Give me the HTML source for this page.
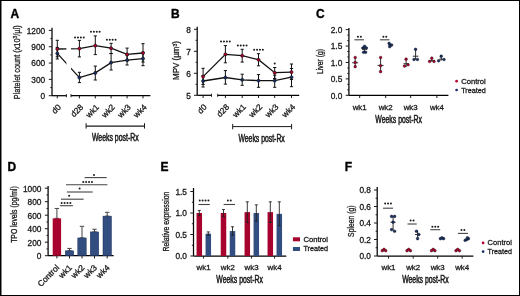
<!DOCTYPE html>
<html><head><meta charset="utf-8"><style>
html,body{margin:0;padding:0;background:#fff;}
body{width:520px;height:296px;overflow:hidden;}
svg{display:block;will-change:transform;font-family:"Liberation Sans",sans-serif;}
text{stroke:#1a1a1a;stroke-width:0.3px;}
</style></head><body>
<svg width="520" height="296" viewBox="0 0 520 296">
<rect x="0" y="0" width="520" height="296" fill="#fff"/>
<rect x="0.5" y="0.5" width="519" height="295" fill="none" stroke="#000" stroke-width="1"/>
<rect x="1" y="1" width="0.8" height="294" fill="#666"/>
<text x="10.60" y="17.90" font-size="12" text-anchor="start" font-weight="bold" fill="#000" style="stroke:#000;stroke-width:0.35px">A</text>
<line x1="52.00" y1="27.80" x2="52.00" y2="95.70" stroke="#000" stroke-width="1.25" />
<line x1="48.80" y1="95.70" x2="52.00" y2="95.70" stroke="#1a1a1a" stroke-width="1" />
<line x1="48.80" y1="79.37" x2="52.00" y2="79.37" stroke="#1a1a1a" stroke-width="1" />
<line x1="48.80" y1="63.05" x2="52.00" y2="63.05" stroke="#1a1a1a" stroke-width="1" />
<line x1="48.80" y1="46.72" x2="52.00" y2="46.72" stroke="#1a1a1a" stroke-width="1" />
<line x1="48.80" y1="30.40" x2="52.00" y2="30.40" stroke="#1a1a1a" stroke-width="1" />
<line x1="50.40" y1="87.54" x2="52.00" y2="87.54" stroke="#1a1a1a" stroke-width="1" />
<line x1="50.40" y1="71.21" x2="52.00" y2="71.21" stroke="#1a1a1a" stroke-width="1" />
<line x1="50.40" y1="54.88" x2="52.00" y2="54.88" stroke="#1a1a1a" stroke-width="1" />
<line x1="50.40" y1="38.56" x2="52.00" y2="38.56" stroke="#1a1a1a" stroke-width="1" />
<text x="45.20" y="99.10" font-size="8.3" text-anchor="end" font-weight="normal" fill="#1a1a1a" >0</text>
<text x="45.20" y="82.77" font-size="8.3" text-anchor="end" font-weight="normal" fill="#1a1a1a" >300</text>
<text x="45.20" y="66.45" font-size="8.3" text-anchor="end" font-weight="normal" fill="#1a1a1a" >600</text>
<text x="45.20" y="50.12" font-size="8.3" text-anchor="end" font-weight="normal" fill="#1a1a1a" >900</text>
<text x="45.20" y="33.80" font-size="8.3" text-anchor="end" font-weight="normal" fill="#1a1a1a" >1200</text>
<text x="20.00" y="62.30" font-size="9.2" text-anchor="middle" fill="#1a1a1a" style="stroke:#1a1a1a;stroke-width:0.3px" transform="rotate(-90 20.00 62.30)" textLength="73.80" lengthAdjust="spacingAndGlyphs">Platelet count (x10<tspan dy="-3" font-size="6.2">3</tspan><tspan dy="3">/µl)</tspan></text>
<line x1="52.00" y1="95.70" x2="66.40" y2="95.70" stroke="#000" stroke-width="1.25" />
<line x1="71.00" y1="95.70" x2="150.40" y2="95.70" stroke="#000" stroke-width="1.25" />
<line x1="66.40" y1="94.20" x2="66.40" y2="97.20" stroke="#1a1a1a" stroke-width="1" />
<line x1="71.00" y1="94.20" x2="71.00" y2="97.20" stroke="#1a1a1a" stroke-width="1" />
<line x1="57.30" y1="95.70" x2="57.30" y2="98.40" stroke="#1a1a1a" stroke-width="1" />
<text x="61.60" y="107.80" font-size="8.3" text-anchor="end" font-weight="normal" fill="#1a1a1a" transform="rotate(-45 61.60 107.80)" >d0</text>
<line x1="79.40" y1="95.70" x2="79.40" y2="98.40" stroke="#1a1a1a" stroke-width="1" />
<text x="83.70" y="107.80" font-size="8.3" text-anchor="end" font-weight="normal" fill="#1a1a1a" transform="rotate(-45 83.70 107.80)" >d28</text>
<line x1="95.30" y1="95.70" x2="95.30" y2="98.40" stroke="#1a1a1a" stroke-width="1" />
<text x="99.60" y="107.80" font-size="8.3" text-anchor="end" font-weight="normal" fill="#1a1a1a" transform="rotate(-45 99.60 107.80)" >wk1</text>
<line x1="111.10" y1="95.70" x2="111.10" y2="98.40" stroke="#1a1a1a" stroke-width="1" />
<text x="115.40" y="107.80" font-size="8.3" text-anchor="end" font-weight="normal" fill="#1a1a1a" transform="rotate(-45 115.40 107.80)" >wk2</text>
<line x1="127.10" y1="95.70" x2="127.10" y2="98.40" stroke="#1a1a1a" stroke-width="1" />
<text x="131.40" y="107.80" font-size="8.3" text-anchor="end" font-weight="normal" fill="#1a1a1a" transform="rotate(-45 131.40 107.80)" >wk3</text>
<line x1="143.00" y1="95.70" x2="143.00" y2="98.40" stroke="#1a1a1a" stroke-width="1" />
<text x="147.30" y="107.80" font-size="8.3" text-anchor="end" font-weight="normal" fill="#1a1a1a" transform="rotate(-45 147.30 107.80)" >wk4</text>
<line x1="86.10" y1="126.10" x2="144.50" y2="126.10" stroke="#1a1a1a" stroke-width="1.1" />
<line x1="86.10" y1="123.20" x2="86.10" y2="128.60" stroke="#1a1a1a" stroke-width="1" />
<line x1="144.50" y1="123.20" x2="144.50" y2="128.60" stroke="#1a1a1a" stroke-width="1" />
<text x="115.30" y="141.00" font-size="10" text-anchor="middle" font-weight="normal" fill="#1a1a1a" textLength="46.80" lengthAdjust="spacingAndGlyphs" style="stroke:#1a1a1a;stroke-width:0.5px">Weeks post-Rx</text>
<line x1="57.30" y1="40.30" x2="57.30" y2="56.80" stroke="#111" stroke-width="1.0" />
<line x1="55.70" y1="40.30" x2="58.90" y2="40.30" stroke="#111" stroke-width="1.0" />
<line x1="55.70" y1="56.80" x2="58.90" y2="56.80" stroke="#111" stroke-width="1.0" />
<line x1="79.40" y1="40.40" x2="79.40" y2="56.90" stroke="#111" stroke-width="1.0" />
<line x1="77.80" y1="40.40" x2="81.00" y2="40.40" stroke="#111" stroke-width="1.0" />
<line x1="77.80" y1="56.90" x2="81.00" y2="56.90" stroke="#111" stroke-width="1.0" />
<line x1="95.30" y1="35.90" x2="95.30" y2="54.60" stroke="#111" stroke-width="1.0" />
<line x1="93.70" y1="35.90" x2="96.90" y2="35.90" stroke="#111" stroke-width="1.0" />
<line x1="93.70" y1="54.60" x2="96.90" y2="54.60" stroke="#111" stroke-width="1.0" />
<line x1="111.10" y1="43.30" x2="111.10" y2="53.40" stroke="#111" stroke-width="1.0" />
<line x1="109.50" y1="43.30" x2="112.70" y2="43.30" stroke="#111" stroke-width="1.0" />
<line x1="109.50" y1="53.40" x2="112.70" y2="53.40" stroke="#111" stroke-width="1.0" />
<line x1="127.10" y1="48.10" x2="127.10" y2="60.60" stroke="#111" stroke-width="1.0" />
<line x1="125.50" y1="48.10" x2="128.70" y2="48.10" stroke="#111" stroke-width="1.0" />
<line x1="125.50" y1="60.60" x2="128.70" y2="60.60" stroke="#111" stroke-width="1.0" />
<line x1="143.00" y1="43.70" x2="143.00" y2="62.00" stroke="#111" stroke-width="1.0" />
<line x1="141.40" y1="43.70" x2="144.60" y2="43.70" stroke="#111" stroke-width="1.0" />
<line x1="141.40" y1="62.00" x2="144.60" y2="62.00" stroke="#111" stroke-width="1.0" />
<line x1="57.30" y1="47.40" x2="57.30" y2="59.00" stroke="#111" stroke-width="1.0" />
<line x1="55.70" y1="47.40" x2="58.90" y2="47.40" stroke="#111" stroke-width="1.0" />
<line x1="55.70" y1="59.00" x2="58.90" y2="59.00" stroke="#111" stroke-width="1.0" />
<line x1="79.40" y1="72.30" x2="79.40" y2="82.60" stroke="#111" stroke-width="1.0" />
<line x1="77.80" y1="72.30" x2="81.00" y2="72.30" stroke="#111" stroke-width="1.0" />
<line x1="77.80" y1="82.60" x2="81.00" y2="82.60" stroke="#111" stroke-width="1.0" />
<line x1="95.30" y1="66.10" x2="95.30" y2="80.00" stroke="#111" stroke-width="1.0" />
<line x1="93.70" y1="66.10" x2="96.90" y2="66.10" stroke="#111" stroke-width="1.0" />
<line x1="93.70" y1="80.00" x2="96.90" y2="80.00" stroke="#111" stroke-width="1.0" />
<line x1="111.10" y1="53.60" x2="111.10" y2="70.00" stroke="#111" stroke-width="1.0" />
<line x1="109.50" y1="53.60" x2="112.70" y2="53.60" stroke="#111" stroke-width="1.0" />
<line x1="109.50" y1="70.00" x2="112.70" y2="70.00" stroke="#111" stroke-width="1.0" />
<line x1="127.10" y1="55.20" x2="127.10" y2="65.00" stroke="#111" stroke-width="1.0" />
<line x1="125.50" y1="55.20" x2="128.70" y2="55.20" stroke="#111" stroke-width="1.0" />
<line x1="125.50" y1="65.00" x2="128.70" y2="65.00" stroke="#111" stroke-width="1.0" />
<line x1="143.00" y1="52.20" x2="143.00" y2="65.70" stroke="#111" stroke-width="1.0" />
<line x1="141.40" y1="52.20" x2="144.60" y2="52.20" stroke="#111" stroke-width="1.0" />
<line x1="141.40" y1="65.70" x2="144.60" y2="65.70" stroke="#111" stroke-width="1.0" />
<clipPath id="cA"><rect x="0" y="0" width="66.4" height="148"/><rect x="71.0" y="0" width="100" height="148"/></clipPath>
<polyline points="57.30,49.00 79.40,48.60 95.30,45.60 111.10,48.20 127.10,54.40 143.00,53.00" fill="none" stroke="#111" stroke-width="1.3" clip-path="url(#cA)"/>
<polyline points="57.30,53.40 79.40,77.60 95.30,72.90 111.10,62.60 127.10,60.20 143.00,58.60" fill="none" stroke="#111" stroke-width="1.3" clip-path="url(#cA)"/>
<circle cx="57.30" cy="49.00" r="1.55" fill="#b8002e" stroke="#111" stroke-width="0.6"/>
<circle cx="79.40" cy="48.60" r="1.55" fill="#b8002e" stroke="#111" stroke-width="0.6"/>
<circle cx="95.30" cy="45.60" r="1.55" fill="#b8002e" stroke="#111" stroke-width="0.6"/>
<circle cx="111.10" cy="48.20" r="1.55" fill="#b8002e" stroke="#111" stroke-width="0.6"/>
<circle cx="127.10" cy="54.40" r="1.55" fill="#b8002e" stroke="#111" stroke-width="0.6"/>
<circle cx="143.00" cy="53.00" r="1.55" fill="#b8002e" stroke="#111" stroke-width="0.6"/>
<circle cx="57.30" cy="53.40" r="1.55" fill="#16306a" stroke="#111" stroke-width="0.6"/>
<circle cx="79.40" cy="77.60" r="1.55" fill="#16306a" stroke="#111" stroke-width="0.6"/>
<circle cx="95.30" cy="72.90" r="1.55" fill="#16306a" stroke="#111" stroke-width="0.6"/>
<circle cx="111.10" cy="62.60" r="1.55" fill="#16306a" stroke="#111" stroke-width="0.6"/>
<circle cx="127.10" cy="60.20" r="1.55" fill="#16306a" stroke="#111" stroke-width="0.6"/>
<circle cx="143.00" cy="58.60" r="1.55" fill="#16306a" stroke="#111" stroke-width="0.6"/>
<circle cx="75.05" cy="37.40" r="1.0" fill="#1a1a1a"/>
<circle cx="77.95" cy="37.40" r="1.0" fill="#1a1a1a"/>
<circle cx="80.85" cy="37.40" r="1.0" fill="#1a1a1a"/>
<circle cx="83.75" cy="37.40" r="1.0" fill="#1a1a1a"/>
<circle cx="90.95" cy="31.70" r="1.0" fill="#1a1a1a"/>
<circle cx="93.85" cy="31.70" r="1.0" fill="#1a1a1a"/>
<circle cx="96.75" cy="31.70" r="1.0" fill="#1a1a1a"/>
<circle cx="99.65" cy="31.70" r="1.0" fill="#1a1a1a"/>
<circle cx="106.85" cy="39.80" r="1.0" fill="#1a1a1a"/>
<circle cx="109.75" cy="39.80" r="1.0" fill="#1a1a1a"/>
<circle cx="112.65" cy="39.80" r="1.0" fill="#1a1a1a"/>
<circle cx="115.55" cy="39.80" r="1.0" fill="#1a1a1a"/>
<text x="170.90" y="18.00" font-size="12" text-anchor="start" font-weight="bold" fill="#000" style="stroke:#000;stroke-width:0.35px">B</text>
<line x1="197.20" y1="26.80" x2="197.20" y2="95.30" stroke="#000" stroke-width="1.25" />
<line x1="194.00" y1="95.30" x2="197.20" y2="95.30" stroke="#1a1a1a" stroke-width="1" />
<line x1="194.00" y1="73.30" x2="197.20" y2="73.30" stroke="#1a1a1a" stroke-width="1" />
<line x1="194.00" y1="51.30" x2="197.20" y2="51.30" stroke="#1a1a1a" stroke-width="1" />
<line x1="194.00" y1="29.30" x2="197.20" y2="29.30" stroke="#1a1a1a" stroke-width="1" />
<line x1="195.60" y1="84.30" x2="197.20" y2="84.30" stroke="#1a1a1a" stroke-width="1" />
<line x1="195.60" y1="62.30" x2="197.20" y2="62.30" stroke="#1a1a1a" stroke-width="1" />
<line x1="195.60" y1="40.30" x2="197.20" y2="40.30" stroke="#1a1a1a" stroke-width="1" />
<text x="190.80" y="98.70" font-size="8.3" text-anchor="end" font-weight="normal" fill="#1a1a1a" >5</text>
<text x="190.80" y="76.70" font-size="8.3" text-anchor="end" font-weight="normal" fill="#1a1a1a" >6</text>
<text x="190.80" y="54.70" font-size="8.3" text-anchor="end" font-weight="normal" fill="#1a1a1a" >7</text>
<text x="190.80" y="32.70" font-size="8.3" text-anchor="end" font-weight="normal" fill="#1a1a1a" >8</text>
<text x="179.30" y="60.50" font-size="8.6" text-anchor="middle" fill="#1a1a1a" style="stroke:#1a1a1a;stroke-width:0.3px" transform="rotate(-90 179.30 60.50)" textLength="38.90" lengthAdjust="spacingAndGlyphs">MPV (µm<tspan dy="-2.6" font-size="5.5">3</tspan><tspan dy="2.6">)</tspan></text>
<line x1="197.20" y1="95.30" x2="211.50" y2="95.30" stroke="#000" stroke-width="1.25" />
<line x1="217.70" y1="95.30" x2="299.20" y2="95.30" stroke="#000" stroke-width="1.25" />
<line x1="211.50" y1="93.80" x2="211.50" y2="96.80" stroke="#1a1a1a" stroke-width="1" />
<line x1="217.70" y1="93.80" x2="217.70" y2="96.80" stroke="#1a1a1a" stroke-width="1" />
<line x1="203.10" y1="95.30" x2="203.10" y2="98.00" stroke="#1a1a1a" stroke-width="1" />
<text x="207.40" y="107.60" font-size="8.3" text-anchor="end" font-weight="normal" fill="#1a1a1a" transform="rotate(-45 207.40 107.60)" >d0</text>
<line x1="225.40" y1="95.30" x2="225.40" y2="98.00" stroke="#1a1a1a" stroke-width="1" />
<text x="229.70" y="107.60" font-size="8.3" text-anchor="end" font-weight="normal" fill="#1a1a1a" transform="rotate(-45 229.70 107.60)" >d28</text>
<line x1="242.20" y1="95.30" x2="242.20" y2="98.00" stroke="#1a1a1a" stroke-width="1" />
<text x="246.50" y="107.60" font-size="8.3" text-anchor="end" font-weight="normal" fill="#1a1a1a" transform="rotate(-45 246.50 107.60)" >wk1</text>
<line x1="258.50" y1="95.30" x2="258.50" y2="98.00" stroke="#1a1a1a" stroke-width="1" />
<text x="262.80" y="107.60" font-size="8.3" text-anchor="end" font-weight="normal" fill="#1a1a1a" transform="rotate(-45 262.80 107.60)" >wk2</text>
<line x1="274.70" y1="95.30" x2="274.70" y2="98.00" stroke="#1a1a1a" stroke-width="1" />
<text x="279.00" y="107.60" font-size="8.3" text-anchor="end" font-weight="normal" fill="#1a1a1a" transform="rotate(-45 279.00 107.60)" >wk3</text>
<line x1="291.50" y1="95.30" x2="291.50" y2="98.00" stroke="#1a1a1a" stroke-width="1" />
<text x="295.80" y="107.60" font-size="8.3" text-anchor="end" font-weight="normal" fill="#1a1a1a" transform="rotate(-45 295.80 107.60)" >wk4</text>
<line x1="232.70" y1="126.60" x2="291.60" y2="126.60" stroke="#1a1a1a" stroke-width="1" />
<line x1="232.70" y1="123.90" x2="232.70" y2="129.30" stroke="#1a1a1a" stroke-width="1" />
<line x1="291.60" y1="123.90" x2="291.60" y2="129.30" stroke="#1a1a1a" stroke-width="1" />
<text x="261.60" y="142.00" font-size="10" text-anchor="middle" font-weight="normal" fill="#1a1a1a" textLength="46.40" lengthAdjust="spacingAndGlyphs" style="stroke:#1a1a1a;stroke-width:0.5px">Weeks post-Rx</text>
<line x1="203.10" y1="68.30" x2="203.10" y2="84.50" stroke="#111" stroke-width="1.0" />
<line x1="201.50" y1="68.30" x2="204.70" y2="68.30" stroke="#111" stroke-width="1.0" />
<line x1="201.50" y1="84.50" x2="204.70" y2="84.50" stroke="#111" stroke-width="1.0" />
<line x1="225.40" y1="45.60" x2="225.40" y2="62.80" stroke="#111" stroke-width="1.0" />
<line x1="223.80" y1="45.60" x2="227.00" y2="45.60" stroke="#111" stroke-width="1.0" />
<line x1="223.80" y1="62.80" x2="227.00" y2="62.80" stroke="#111" stroke-width="1.0" />
<line x1="242.20" y1="49.30" x2="242.20" y2="62.10" stroke="#111" stroke-width="1.0" />
<line x1="240.60" y1="49.30" x2="243.80" y2="49.30" stroke="#111" stroke-width="1.0" />
<line x1="240.60" y1="62.10" x2="243.80" y2="62.10" stroke="#111" stroke-width="1.0" />
<line x1="258.50" y1="53.70" x2="258.50" y2="65.80" stroke="#111" stroke-width="1.0" />
<line x1="256.90" y1="53.70" x2="260.10" y2="53.70" stroke="#111" stroke-width="1.0" />
<line x1="256.90" y1="65.80" x2="260.10" y2="65.80" stroke="#111" stroke-width="1.0" />
<line x1="274.70" y1="67.50" x2="274.70" y2="78.50" stroke="#111" stroke-width="1.0" />
<line x1="273.10" y1="67.50" x2="276.30" y2="67.50" stroke="#111" stroke-width="1.0" />
<line x1="273.10" y1="78.50" x2="276.30" y2="78.50" stroke="#111" stroke-width="1.0" />
<line x1="291.50" y1="64.00" x2="291.50" y2="79.50" stroke="#111" stroke-width="1.0" />
<line x1="289.90" y1="64.00" x2="293.10" y2="64.00" stroke="#111" stroke-width="1.0" />
<line x1="289.90" y1="79.50" x2="293.10" y2="79.50" stroke="#111" stroke-width="1.0" />
<line x1="203.10" y1="75.50" x2="203.10" y2="87.00" stroke="#111" stroke-width="1.0" />
<line x1="201.50" y1="75.50" x2="204.70" y2="75.50" stroke="#111" stroke-width="1.0" />
<line x1="201.50" y1="87.00" x2="204.70" y2="87.00" stroke="#111" stroke-width="1.0" />
<line x1="225.40" y1="70.60" x2="225.40" y2="84.10" stroke="#111" stroke-width="1.0" />
<line x1="223.80" y1="70.60" x2="227.00" y2="70.60" stroke="#111" stroke-width="1.0" />
<line x1="223.80" y1="84.10" x2="227.00" y2="84.10" stroke="#111" stroke-width="1.0" />
<line x1="242.20" y1="74.20" x2="242.20" y2="85.30" stroke="#111" stroke-width="1.0" />
<line x1="240.60" y1="74.20" x2="243.80" y2="74.20" stroke="#111" stroke-width="1.0" />
<line x1="240.60" y1="85.30" x2="243.80" y2="85.30" stroke="#111" stroke-width="1.0" />
<line x1="258.50" y1="74.60" x2="258.50" y2="87.30" stroke="#111" stroke-width="1.0" />
<line x1="256.90" y1="74.60" x2="260.10" y2="74.60" stroke="#111" stroke-width="1.0" />
<line x1="256.90" y1="87.30" x2="260.10" y2="87.30" stroke="#111" stroke-width="1.0" />
<line x1="274.70" y1="75.20" x2="274.70" y2="87.30" stroke="#111" stroke-width="1.0" />
<line x1="273.10" y1="75.20" x2="276.30" y2="75.20" stroke="#111" stroke-width="1.0" />
<line x1="273.10" y1="87.30" x2="276.30" y2="87.30" stroke="#111" stroke-width="1.0" />
<line x1="291.50" y1="68.50" x2="291.50" y2="86.70" stroke="#111" stroke-width="1.0" />
<line x1="289.90" y1="68.50" x2="293.10" y2="68.50" stroke="#111" stroke-width="1.0" />
<line x1="289.90" y1="86.70" x2="293.10" y2="86.70" stroke="#111" stroke-width="1.0" />
<polyline points="203.10,76.60 225.40,54.30 242.20,55.70 258.50,59.70 274.70,72.70 291.50,72.10" fill="none" stroke="#111" stroke-width="1.3" />
<polyline points="203.10,81.00 225.40,77.50 242.20,79.80 258.50,80.60 274.70,80.60 291.50,77.20" fill="none" stroke="#111" stroke-width="1.3" />
<circle cx="203.10" cy="76.60" r="1.55" fill="#b8002e" stroke="#111" stroke-width="0.6"/>
<circle cx="225.40" cy="54.30" r="1.55" fill="#b8002e" stroke="#111" stroke-width="0.6"/>
<circle cx="242.20" cy="55.70" r="1.55" fill="#b8002e" stroke="#111" stroke-width="0.6"/>
<circle cx="258.50" cy="59.70" r="1.55" fill="#b8002e" stroke="#111" stroke-width="0.6"/>
<circle cx="274.70" cy="72.70" r="1.55" fill="#b8002e" stroke="#111" stroke-width="0.6"/>
<circle cx="291.50" cy="72.10" r="1.55" fill="#b8002e" stroke="#111" stroke-width="0.6"/>
<circle cx="203.10" cy="81.00" r="1.55" fill="#16306a" stroke="#111" stroke-width="0.6"/>
<circle cx="225.40" cy="77.50" r="1.55" fill="#16306a" stroke="#111" stroke-width="0.6"/>
<circle cx="242.20" cy="79.80" r="1.55" fill="#16306a" stroke="#111" stroke-width="0.6"/>
<circle cx="258.50" cy="80.60" r="1.55" fill="#16306a" stroke="#111" stroke-width="0.6"/>
<circle cx="274.70" cy="80.60" r="1.55" fill="#16306a" stroke="#111" stroke-width="0.6"/>
<circle cx="291.50" cy="77.20" r="1.55" fill="#16306a" stroke="#111" stroke-width="0.6"/>
<circle cx="221.05" cy="41.50" r="1.0" fill="#1a1a1a"/>
<circle cx="223.95" cy="41.50" r="1.0" fill="#1a1a1a"/>
<circle cx="226.85" cy="41.50" r="1.0" fill="#1a1a1a"/>
<circle cx="229.75" cy="41.50" r="1.0" fill="#1a1a1a"/>
<circle cx="237.85" cy="45.60" r="1.0" fill="#1a1a1a"/>
<circle cx="240.75" cy="45.60" r="1.0" fill="#1a1a1a"/>
<circle cx="243.65" cy="45.60" r="1.0" fill="#1a1a1a"/>
<circle cx="246.55" cy="45.60" r="1.0" fill="#1a1a1a"/>
<circle cx="254.15" cy="49.80" r="1.0" fill="#1a1a1a"/>
<circle cx="257.05" cy="49.80" r="1.0" fill="#1a1a1a"/>
<circle cx="259.95" cy="49.80" r="1.0" fill="#1a1a1a"/>
<circle cx="262.85" cy="49.80" r="1.0" fill="#1a1a1a"/>
<circle cx="274.70" cy="63.40" r="1.0" fill="#1a1a1a"/>
<text x="315.90" y="18.20" font-size="12" text-anchor="start" font-weight="bold" fill="#000" style="stroke:#000;stroke-width:0.35px">C</text>
<line x1="348.90" y1="28.00" x2="348.90" y2="95.30" stroke="#000" stroke-width="1.25" />
<line x1="345.70" y1="95.30" x2="348.90" y2="95.30" stroke="#1a1a1a" stroke-width="1" />
<line x1="345.70" y1="78.88" x2="348.90" y2="78.88" stroke="#1a1a1a" stroke-width="1" />
<line x1="345.70" y1="62.45" x2="348.90" y2="62.45" stroke="#1a1a1a" stroke-width="1" />
<line x1="345.70" y1="46.02" x2="348.90" y2="46.02" stroke="#1a1a1a" stroke-width="1" />
<line x1="345.70" y1="29.60" x2="348.90" y2="29.60" stroke="#1a1a1a" stroke-width="1" />
<line x1="347.30" y1="89.82" x2="348.90" y2="89.82" stroke="#1a1a1a" stroke-width="1" />
<line x1="347.30" y1="84.35" x2="348.90" y2="84.35" stroke="#1a1a1a" stroke-width="1" />
<line x1="347.30" y1="73.40" x2="348.90" y2="73.40" stroke="#1a1a1a" stroke-width="1" />
<line x1="347.30" y1="67.93" x2="348.90" y2="67.93" stroke="#1a1a1a" stroke-width="1" />
<line x1="347.30" y1="56.97" x2="348.90" y2="56.97" stroke="#1a1a1a" stroke-width="1" />
<line x1="347.30" y1="51.50" x2="348.90" y2="51.50" stroke="#1a1a1a" stroke-width="1" />
<line x1="347.30" y1="40.55" x2="348.90" y2="40.55" stroke="#1a1a1a" stroke-width="1" />
<line x1="347.30" y1="35.08" x2="348.90" y2="35.08" stroke="#1a1a1a" stroke-width="1" />
<text x="342.30" y="98.70" font-size="8.3" text-anchor="end" font-weight="normal" fill="#1a1a1a" >0.0</text>
<text x="342.30" y="82.28" font-size="8.3" text-anchor="end" font-weight="normal" fill="#1a1a1a" >0.5</text>
<text x="342.30" y="65.85" font-size="8.3" text-anchor="end" font-weight="normal" fill="#1a1a1a" >1.0</text>
<text x="342.30" y="49.42" font-size="8.3" text-anchor="end" font-weight="normal" fill="#1a1a1a" >1.5</text>
<text x="342.30" y="33.00" font-size="8.3" text-anchor="end" font-weight="normal" fill="#1a1a1a" >2.0</text>
<text x="322.60" y="61.50" font-size="8.6" text-anchor="middle" fill="#1a1a1a" style="stroke:#1a1a1a;stroke-width:0.3px" transform="rotate(-90 322.60 61.50)" textLength="25.00" lengthAdjust="spacingAndGlyphs">Liver (g)</text>
<line x1="348.90" y1="95.30" x2="448.40" y2="95.30" stroke="#000" stroke-width="1.25" />
<line x1="359.70" y1="95.30" x2="359.70" y2="98.00" stroke="#1a1a1a" stroke-width="1" />
<text x="359.70" y="110.10" font-size="7.9" text-anchor="middle" font-weight="normal" fill="#1a1a1a" >wk1</text>
<line x1="385.70" y1="95.30" x2="385.70" y2="98.00" stroke="#1a1a1a" stroke-width="1" />
<text x="385.70" y="110.10" font-size="7.9" text-anchor="middle" font-weight="normal" fill="#1a1a1a" >wk2</text>
<line x1="410.70" y1="95.30" x2="410.70" y2="98.00" stroke="#1a1a1a" stroke-width="1" />
<text x="410.70" y="110.10" font-size="7.9" text-anchor="middle" font-weight="normal" fill="#1a1a1a" >wk3</text>
<line x1="436.90" y1="95.30" x2="436.90" y2="98.00" stroke="#1a1a1a" stroke-width="1" />
<text x="436.90" y="110.10" font-size="7.9" text-anchor="middle" font-weight="normal" fill="#1a1a1a" >wk4</text>
<text x="398.60" y="123.40" font-size="10" text-anchor="middle" font-weight="normal" fill="#1a1a1a" textLength="46.50" lengthAdjust="spacingAndGlyphs" style="stroke:#1a1a1a;stroke-width:0.5px">Weeks post-Rx</text>
<line x1="355.20" y1="66.72" x2="355.20" y2="57.52" stroke="#1a1a1a" stroke-width="0.9" />
<line x1="352.20" y1="62.78" x2="358.20" y2="62.78" stroke="#1a1a1a" stroke-width="0.9" />
<circle cx="355.20" cy="57.52" r="1.35" fill="#b8002e" stroke="#111" stroke-width="0.45"/>
<circle cx="355.20" cy="62.45" r="1.35" fill="#b8002e" stroke="#111" stroke-width="0.45"/>
<circle cx="355.20" cy="66.72" r="1.35" fill="#b8002e" stroke="#111" stroke-width="0.45"/>
<line x1="364.60" y1="52.27" x2="364.60" y2="46.35" stroke="#1a1a1a" stroke-width="0.9" />
<line x1="362.10" y1="49.31" x2="367.10" y2="49.31" stroke="#1a1a1a" stroke-width="0.9" />
<circle cx="362.80" cy="48.00" r="1.35" fill="#16306a" stroke="#111" stroke-width="0.45"/>
<circle cx="364.60" cy="46.35" r="1.35" fill="#16306a" stroke="#111" stroke-width="0.45"/>
<circle cx="366.40" cy="48.00" r="1.35" fill="#16306a" stroke="#111" stroke-width="0.45"/>
<circle cx="363.60" cy="52.27" r="1.35" fill="#16306a" stroke="#111" stroke-width="0.45"/>
<circle cx="365.60" cy="52.27" r="1.35" fill="#16306a" stroke="#111" stroke-width="0.45"/>
<line x1="380.60" y1="71.65" x2="380.60" y2="57.52" stroke="#1a1a1a" stroke-width="0.9" />
<line x1="377.60" y1="65.41" x2="383.60" y2="65.41" stroke="#1a1a1a" stroke-width="0.9" />
<circle cx="380.60" cy="57.52" r="1.35" fill="#b8002e" stroke="#111" stroke-width="0.45"/>
<circle cx="380.60" cy="65.73" r="1.35" fill="#b8002e" stroke="#111" stroke-width="0.45"/>
<circle cx="380.60" cy="71.65" r="1.35" fill="#b8002e" stroke="#111" stroke-width="0.45"/>
<line x1="390.30" y1="47.01" x2="390.30" y2="43.40" stroke="#1a1a1a" stroke-width="0.9" />
<line x1="388.10" y1="45.04" x2="392.50" y2="45.04" stroke="#1a1a1a" stroke-width="0.9" />
<circle cx="389.10" cy="43.40" r="1.35" fill="#16306a" stroke="#111" stroke-width="0.45"/>
<circle cx="391.60" cy="45.04" r="1.35" fill="#16306a" stroke="#111" stroke-width="0.45"/>
<circle cx="389.70" cy="46.68" r="1.35" fill="#16306a" stroke="#111" stroke-width="0.45"/>
<line x1="406.10" y1="67.05" x2="406.10" y2="59.16" stroke="#1a1a1a" stroke-width="0.9" />
<line x1="403.50" y1="63.76" x2="408.70" y2="63.76" stroke="#1a1a1a" stroke-width="0.9" />
<circle cx="406.10" cy="59.16" r="1.35" fill="#b8002e" stroke="#111" stroke-width="0.45"/>
<circle cx="408.10" cy="64.75" r="1.35" fill="#b8002e" stroke="#111" stroke-width="0.45"/>
<circle cx="404.50" cy="66.06" r="1.35" fill="#b8002e" stroke="#111" stroke-width="0.45"/>
<line x1="415.60" y1="59.49" x2="415.60" y2="49.31" stroke="#1a1a1a" stroke-width="0.9" />
<line x1="412.80" y1="56.21" x2="418.40" y2="56.21" stroke="#1a1a1a" stroke-width="0.9" />
<circle cx="415.60" cy="49.31" r="1.35" fill="#16306a" stroke="#111" stroke-width="0.45"/>
<circle cx="414.00" cy="59.49" r="1.35" fill="#16306a" stroke="#111" stroke-width="0.45"/>
<circle cx="417.40" cy="59.49" r="1.35" fill="#16306a" stroke="#111" stroke-width="0.45"/>
<line x1="431.80" y1="61.46" x2="431.80" y2="58.18" stroke="#1a1a1a" stroke-width="0.9" />
<line x1="429.80" y1="60.81" x2="433.80" y2="60.81" stroke="#1a1a1a" stroke-width="0.9" />
<circle cx="431.80" cy="58.18" r="1.35" fill="#b8002e" stroke="#111" stroke-width="0.45"/>
<circle cx="429.60" cy="61.46" r="1.35" fill="#b8002e" stroke="#111" stroke-width="0.45"/>
<circle cx="434.00" cy="61.46" r="1.35" fill="#b8002e" stroke="#111" stroke-width="0.45"/>
<line x1="441.20" y1="60.81" x2="441.20" y2="56.21" stroke="#1a1a1a" stroke-width="0.9" />
<line x1="439.20" y1="59.16" x2="443.20" y2="59.16" stroke="#1a1a1a" stroke-width="0.9" />
<circle cx="441.20" cy="56.21" r="1.35" fill="#16306a" stroke="#111" stroke-width="0.45"/>
<circle cx="438.60" cy="60.81" r="1.35" fill="#16306a" stroke="#111" stroke-width="0.45"/>
<circle cx="444.00" cy="59.49" r="1.35" fill="#16306a" stroke="#111" stroke-width="0.45"/>
<line x1="354.40" y1="39.80" x2="364.00" y2="39.80" stroke="#444" stroke-width="1.1" />
<line x1="380.00" y1="39.80" x2="389.50" y2="39.80" stroke="#444" stroke-width="1.1" />
<circle cx="357.95" cy="36.80" r="1.0" fill="#1a1a1a"/>
<circle cx="360.85" cy="36.80" r="1.0" fill="#1a1a1a"/>
<circle cx="383.35" cy="36.80" r="1.0" fill="#1a1a1a"/>
<circle cx="386.25" cy="36.80" r="1.0" fill="#1a1a1a"/>
<circle cx="456.6" cy="81.2" r="1.35" fill="#b8002e"/>
<circle cx="456.6" cy="90.0" r="1.35" fill="#16306a"/>
<text x="461.20" y="83.80" font-size="7.7" text-anchor="start" font-weight="normal" fill="#1a1a1a" textLength="24.60" lengthAdjust="spacingAndGlyphs" >Control</text>
<text x="461.20" y="92.80" font-size="7.7" text-anchor="start" font-weight="normal" fill="#1a1a1a" textLength="24.60" lengthAdjust="spacingAndGlyphs" >Treated</text>
<text x="7.60" y="170.90" font-size="12" text-anchor="start" font-weight="bold" fill="#000" style="stroke:#000;stroke-width:0.35px">D</text>
<line x1="48.10" y1="186.00" x2="48.10" y2="255.70" stroke="#000" stroke-width="1.25" />
<line x1="44.90" y1="255.70" x2="48.10" y2="255.70" stroke="#1a1a1a" stroke-width="1" />
<line x1="44.90" y1="242.20" x2="48.10" y2="242.20" stroke="#1a1a1a" stroke-width="1" />
<line x1="44.90" y1="228.70" x2="48.10" y2="228.70" stroke="#1a1a1a" stroke-width="1" />
<line x1="44.90" y1="215.20" x2="48.10" y2="215.20" stroke="#1a1a1a" stroke-width="1" />
<line x1="44.90" y1="201.70" x2="48.10" y2="201.70" stroke="#1a1a1a" stroke-width="1" />
<line x1="44.90" y1="188.20" x2="48.10" y2="188.20" stroke="#1a1a1a" stroke-width="1" />
<line x1="46.50" y1="248.95" x2="48.10" y2="248.95" stroke="#1a1a1a" stroke-width="1" />
<line x1="46.50" y1="235.45" x2="48.10" y2="235.45" stroke="#1a1a1a" stroke-width="1" />
<line x1="46.50" y1="221.95" x2="48.10" y2="221.95" stroke="#1a1a1a" stroke-width="1" />
<line x1="46.50" y1="208.45" x2="48.10" y2="208.45" stroke="#1a1a1a" stroke-width="1" />
<line x1="46.50" y1="194.95" x2="48.10" y2="194.95" stroke="#1a1a1a" stroke-width="1" />
<text x="41.40" y="259.10" font-size="8.3" text-anchor="end" font-weight="normal" fill="#1a1a1a" >0</text>
<text x="41.40" y="245.60" font-size="8.3" text-anchor="end" font-weight="normal" fill="#1a1a1a" >200</text>
<text x="41.40" y="232.10" font-size="8.3" text-anchor="end" font-weight="normal" fill="#1a1a1a" >400</text>
<text x="41.40" y="218.60" font-size="8.3" text-anchor="end" font-weight="normal" fill="#1a1a1a" >600</text>
<text x="41.40" y="205.10" font-size="8.3" text-anchor="end" font-weight="normal" fill="#1a1a1a" >800</text>
<text x="41.40" y="191.60" font-size="8.3" text-anchor="end" font-weight="normal" fill="#1a1a1a" >1000</text>
<text x="16.60" y="214.60" font-size="9.0" text-anchor="middle" fill="#1a1a1a" style="stroke:#1a1a1a;stroke-width:0.3px" transform="rotate(-90 16.60 214.60)" textLength="56.50" lengthAdjust="spacingAndGlyphs">TPO levels (pg/ml)</text>
<line x1="48.10" y1="255.70" x2="113.60" y2="255.70" stroke="#000" stroke-width="1.25" />
<line x1="56.90" y1="255.70" x2="56.90" y2="258.40" stroke="#1a1a1a" stroke-width="1" />
<line x1="69.50" y1="255.70" x2="69.50" y2="258.40" stroke="#1a1a1a" stroke-width="1" />
<line x1="82.00" y1="255.70" x2="82.00" y2="258.40" stroke="#1a1a1a" stroke-width="1" />
<line x1="94.50" y1="255.70" x2="94.50" y2="258.40" stroke="#1a1a1a" stroke-width="1" />
<line x1="107.20" y1="255.70" x2="107.20" y2="258.40" stroke="#1a1a1a" stroke-width="1" />
<text x="59.90" y="268.30" font-size="8.3" text-anchor="end" font-weight="normal" fill="#1a1a1a" transform="rotate(-45 59.90 268.30)" >Control</text>
<text x="72.50" y="268.30" font-size="8.3" text-anchor="end" font-weight="normal" fill="#1a1a1a" transform="rotate(-45 72.50 268.30)" >wk1</text>
<text x="85.00" y="268.30" font-size="8.3" text-anchor="end" font-weight="normal" fill="#1a1a1a" transform="rotate(-45 85.00 268.30)" >wk2</text>
<text x="97.50" y="268.30" font-size="8.3" text-anchor="end" font-weight="normal" fill="#1a1a1a" transform="rotate(-45 97.50 268.30)" >wk3</text>
<text x="110.20" y="268.30" font-size="8.3" text-anchor="end" font-weight="normal" fill="#1a1a1a" transform="rotate(-45 110.20 268.30)" >wk4</text>
<line x1="56.90" y1="208.45" x2="56.90" y2="218.37" stroke="#444" stroke-width="1.0" />
<line x1="54.70" y1="208.45" x2="59.10" y2="208.45" stroke="#444" stroke-width="1.0" />
<line x1="54.70" y1="218.37" x2="59.10" y2="218.37" stroke="#444" stroke-width="1.0" />
<rect x="52.70" y="218.37" width="8.4" height="37.33" fill="#a8022e"/>
<line x1="69.50" y1="248.41" x2="69.50" y2="250.84" stroke="#444" stroke-width="1.0" />
<line x1="67.30" y1="248.41" x2="71.70" y2="248.41" stroke="#444" stroke-width="1.0" />
<line x1="67.30" y1="250.84" x2="71.70" y2="250.84" stroke="#444" stroke-width="1.0" />
<rect x="65.30" y="250.84" width="8.4" height="4.86" fill="#324d80" stroke="#1a2a55" stroke-width="0.5"/>
<line x1="82.00" y1="226.34" x2="82.00" y2="237.95" stroke="#444" stroke-width="1.0" />
<line x1="79.80" y1="226.34" x2="84.20" y2="226.34" stroke="#444" stroke-width="1.0" />
<line x1="79.80" y1="237.95" x2="84.20" y2="237.95" stroke="#444" stroke-width="1.0" />
<rect x="77.80" y="237.95" width="8.4" height="17.75" fill="#324d80" stroke="#1a2a55" stroke-width="0.5"/>
<line x1="94.50" y1="229.24" x2="94.50" y2="231.94" stroke="#444" stroke-width="1.0" />
<line x1="92.30" y1="229.24" x2="96.70" y2="229.24" stroke="#444" stroke-width="1.0" />
<line x1="92.30" y1="231.94" x2="96.70" y2="231.94" stroke="#444" stroke-width="1.0" />
<rect x="90.30" y="231.94" width="8.4" height="23.76" fill="#324d80" stroke="#1a2a55" stroke-width="0.5"/>
<line x1="107.20" y1="212.30" x2="107.20" y2="216.14" stroke="#444" stroke-width="1.0" />
<line x1="105.00" y1="212.30" x2="109.40" y2="212.30" stroke="#444" stroke-width="1.0" />
<line x1="105.00" y1="216.14" x2="109.40" y2="216.14" stroke="#444" stroke-width="1.0" />
<rect x="103.00" y="216.14" width="8.4" height="39.56" fill="#324d80" stroke="#1a2a55" stroke-width="0.5"/>
<line x1="59.90" y1="205.70" x2="72.90" y2="205.70" stroke="#444" stroke-width="1.1" />
<circle cx="61.65" cy="203.00" r="1.0" fill="#1a1a1a"/>
<circle cx="64.55" cy="203.00" r="1.0" fill="#1a1a1a"/>
<circle cx="67.45" cy="203.00" r="1.0" fill="#1a1a1a"/>
<circle cx="70.35" cy="203.00" r="1.0" fill="#1a1a1a"/>
<line x1="61.00" y1="199.20" x2="83.60" y2="199.20" stroke="#444" stroke-width="1.1" />
<circle cx="69.10" cy="195.70" r="1.0" fill="#1a1a1a"/>
<line x1="66.90" y1="192.00" x2="92.70" y2="192.00" stroke="#444" stroke-width="1.1" />
<circle cx="79.60" cy="188.50" r="1.0" fill="#1a1a1a"/>
<line x1="66.00" y1="184.70" x2="107.40" y2="184.70" stroke="#444" stroke-width="1.1" />
<circle cx="83.25" cy="182.00" r="1.0" fill="#1a1a1a"/>
<circle cx="86.15" cy="182.00" r="1.0" fill="#1a1a1a"/>
<circle cx="89.05" cy="182.00" r="1.0" fill="#1a1a1a"/>
<circle cx="91.95" cy="182.00" r="1.0" fill="#1a1a1a"/>
<line x1="84.60" y1="177.60" x2="106.70" y2="177.60" stroke="#444" stroke-width="1.1" />
<circle cx="94.00" cy="175.10" r="1.0" fill="#1a1a1a"/>
<text x="160.60" y="171.20" font-size="12" text-anchor="start" font-weight="bold" fill="#000" style="stroke:#000;stroke-width:0.35px">E</text>
<line x1="193.50" y1="188.00" x2="193.50" y2="256.00" stroke="#000" stroke-width="1.25" />
<line x1="190.30" y1="256.00" x2="193.50" y2="256.00" stroke="#1a1a1a" stroke-width="1" />
<line x1="190.30" y1="234.50" x2="193.50" y2="234.50" stroke="#1a1a1a" stroke-width="1" />
<line x1="190.30" y1="213.00" x2="193.50" y2="213.00" stroke="#1a1a1a" stroke-width="1" />
<line x1="190.30" y1="191.50" x2="193.50" y2="191.50" stroke="#1a1a1a" stroke-width="1" />
<line x1="191.90" y1="245.25" x2="193.50" y2="245.25" stroke="#1a1a1a" stroke-width="1" />
<line x1="191.90" y1="223.75" x2="193.50" y2="223.75" stroke="#1a1a1a" stroke-width="1" />
<line x1="191.90" y1="202.25" x2="193.50" y2="202.25" stroke="#1a1a1a" stroke-width="1" />
<text x="187.00" y="259.40" font-size="8.3" text-anchor="end" font-weight="normal" fill="#1a1a1a" >0.0</text>
<text x="187.00" y="237.90" font-size="8.3" text-anchor="end" font-weight="normal" fill="#1a1a1a" >0.5</text>
<text x="187.00" y="216.40" font-size="8.3" text-anchor="end" font-weight="normal" fill="#1a1a1a" >1.0</text>
<text x="187.00" y="194.90" font-size="8.3" text-anchor="end" font-weight="normal" fill="#1a1a1a" >1.5</text>
<text x="169.50" y="221.60" font-size="8.6" text-anchor="middle" fill="#1a1a1a" style="stroke:#1a1a1a;stroke-width:0.3px" transform="rotate(-90 169.50 221.60)" textLength="59.90" lengthAdjust="spacingAndGlyphs">Relative expression</text>
<line x1="193.50" y1="256.00" x2="286.30" y2="256.00" stroke="#000" stroke-width="1.25" />
<line x1="203.60" y1="256.00" x2="203.60" y2="258.60" stroke="#1a1a1a" stroke-width="1" />
<text x="203.60" y="270.00" font-size="7.9" text-anchor="middle" font-weight="normal" fill="#1a1a1a" >wk1</text>
<line x1="227.80" y1="256.00" x2="227.80" y2="258.60" stroke="#1a1a1a" stroke-width="1" />
<text x="227.80" y="270.00" font-size="7.9" text-anchor="middle" font-weight="normal" fill="#1a1a1a" >wk2</text>
<line x1="251.60" y1="256.00" x2="251.60" y2="258.60" stroke="#1a1a1a" stroke-width="1" />
<text x="251.60" y="270.00" font-size="7.9" text-anchor="middle" font-weight="normal" fill="#1a1a1a" >wk3</text>
<line x1="274.60" y1="256.00" x2="274.60" y2="258.60" stroke="#1a1a1a" stroke-width="1" />
<text x="274.60" y="270.00" font-size="7.9" text-anchor="middle" font-weight="normal" fill="#1a1a1a" >wk4</text>
<text x="239.60" y="283.40" font-size="10" text-anchor="middle" font-weight="normal" fill="#1a1a1a" textLength="46.50" lengthAdjust="spacingAndGlyphs" style="stroke:#1a1a1a;stroke-width:0.5px">Weeks post-Rx</text>
<rect x="196.55" y="213.00" width="5.5" height="43.00" fill="#a8022e"/>
<line x1="199.30" y1="210.42" x2="199.30" y2="215.58" stroke="#222" stroke-width="0.9" />
<line x1="197.80" y1="210.42" x2="200.80" y2="210.42" stroke="#222" stroke-width="0.9" />
<line x1="197.80" y1="215.58" x2="200.80" y2="215.58" stroke="#222" stroke-width="0.9" />
<rect x="205.55" y="233.64" width="5.5" height="22.36" fill="#324d80"/>
<line x1="208.30" y1="231.92" x2="208.30" y2="235.36" stroke="#222" stroke-width="0.9" />
<line x1="206.80" y1="231.92" x2="209.80" y2="231.92" stroke="#222" stroke-width="0.9" />
<line x1="206.80" y1="235.36" x2="209.80" y2="235.36" stroke="#222" stroke-width="0.9" />
<rect x="220.75" y="213.00" width="5.5" height="43.00" fill="#a8022e"/>
<line x1="223.50" y1="209.56" x2="223.50" y2="216.44" stroke="#222" stroke-width="0.9" />
<line x1="222.00" y1="209.56" x2="225.00" y2="209.56" stroke="#222" stroke-width="0.9" />
<line x1="222.00" y1="216.44" x2="225.00" y2="216.44" stroke="#222" stroke-width="0.9" />
<rect x="229.75" y="231.06" width="5.5" height="24.94" fill="#324d80"/>
<line x1="232.50" y1="226.76" x2="232.50" y2="235.36" stroke="#222" stroke-width="0.9" />
<line x1="231.00" y1="226.76" x2="234.00" y2="226.76" stroke="#222" stroke-width="0.9" />
<line x1="231.00" y1="235.36" x2="234.00" y2="235.36" stroke="#222" stroke-width="0.9" />
<rect x="244.55" y="212.14" width="5.5" height="43.86" fill="#a8022e"/>
<line x1="247.30" y1="201.82" x2="247.30" y2="222.46" stroke="#222" stroke-width="0.9" />
<line x1="245.80" y1="201.82" x2="248.80" y2="201.82" stroke="#222" stroke-width="0.9" />
<line x1="245.80" y1="222.46" x2="248.80" y2="222.46" stroke="#222" stroke-width="0.9" />
<rect x="253.55" y="213.00" width="5.5" height="43.00" fill="#324d80"/>
<line x1="256.30" y1="204.83" x2="256.30" y2="221.17" stroke="#222" stroke-width="0.9" />
<line x1="254.80" y1="204.83" x2="257.80" y2="204.83" stroke="#222" stroke-width="0.9" />
<line x1="254.80" y1="221.17" x2="257.80" y2="221.17" stroke="#222" stroke-width="0.9" />
<rect x="267.55" y="212.14" width="5.5" height="43.86" fill="#a8022e"/>
<line x1="270.30" y1="201.82" x2="270.30" y2="222.46" stroke="#222" stroke-width="0.9" />
<line x1="268.80" y1="201.82" x2="271.80" y2="201.82" stroke="#222" stroke-width="0.9" />
<line x1="268.80" y1="222.46" x2="271.80" y2="222.46" stroke="#222" stroke-width="0.9" />
<rect x="276.55" y="213.86" width="5.5" height="42.14" fill="#324d80"/>
<line x1="279.30" y1="201.82" x2="279.30" y2="225.90" stroke="#222" stroke-width="0.9" />
<line x1="277.80" y1="201.82" x2="280.80" y2="201.82" stroke="#222" stroke-width="0.9" />
<line x1="277.80" y1="225.90" x2="280.80" y2="225.90" stroke="#222" stroke-width="0.9" />
<line x1="198.40" y1="204.50" x2="209.80" y2="204.50" stroke="#444" stroke-width="1.1" />
<line x1="223.60" y1="204.50" x2="235.00" y2="204.50" stroke="#444" stroke-width="1.1" />
<circle cx="199.75" cy="200.60" r="1.0" fill="#1a1a1a"/>
<circle cx="202.65" cy="200.60" r="1.0" fill="#1a1a1a"/>
<circle cx="205.55" cy="200.60" r="1.0" fill="#1a1a1a"/>
<circle cx="208.45" cy="200.60" r="1.0" fill="#1a1a1a"/>
<circle cx="227.85" cy="200.60" r="1.0" fill="#1a1a1a"/>
<circle cx="230.75" cy="200.60" r="1.0" fill="#1a1a1a"/>
<rect x="292.9" y="237.3" width="7.1" height="4.0" fill="#a8022e"/>
<rect x="292.9" y="247.0" width="7.1" height="4.0" fill="#324d80"/>
<text x="303.40" y="241.90" font-size="7.7" text-anchor="start" font-weight="normal" fill="#1a1a1a" textLength="24.70" lengthAdjust="spacingAndGlyphs" >Control</text>
<text x="303.40" y="251.10" font-size="7.7" text-anchor="start" font-weight="normal" fill="#1a1a1a" textLength="24.70" lengthAdjust="spacingAndGlyphs" >Treated</text>
<text x="344.80" y="171.10" font-size="12" text-anchor="start" font-weight="bold" fill="#000" style="stroke:#000;stroke-width:0.35px">F</text>
<line x1="377.20" y1="187.00" x2="377.20" y2="256.00" stroke="#000" stroke-width="1.25" />
<line x1="374.00" y1="256.00" x2="377.20" y2="256.00" stroke="#1a1a1a" stroke-width="1" />
<line x1="374.00" y1="239.50" x2="377.20" y2="239.50" stroke="#1a1a1a" stroke-width="1" />
<line x1="374.00" y1="223.00" x2="377.20" y2="223.00" stroke="#1a1a1a" stroke-width="1" />
<line x1="374.00" y1="206.50" x2="377.20" y2="206.50" stroke="#1a1a1a" stroke-width="1" />
<line x1="374.00" y1="190.00" x2="377.20" y2="190.00" stroke="#1a1a1a" stroke-width="1" />
<line x1="375.60" y1="247.75" x2="377.20" y2="247.75" stroke="#1a1a1a" stroke-width="1" />
<line x1="375.60" y1="231.25" x2="377.20" y2="231.25" stroke="#1a1a1a" stroke-width="1" />
<line x1="375.60" y1="214.75" x2="377.20" y2="214.75" stroke="#1a1a1a" stroke-width="1" />
<line x1="375.60" y1="198.25" x2="377.20" y2="198.25" stroke="#1a1a1a" stroke-width="1" />
<text x="371.00" y="259.40" font-size="8.3" text-anchor="end" font-weight="normal" fill="#1a1a1a" >0.0</text>
<text x="371.00" y="242.90" font-size="8.3" text-anchor="end" font-weight="normal" fill="#1a1a1a" >0.2</text>
<text x="371.00" y="226.40" font-size="8.3" text-anchor="end" font-weight="normal" fill="#1a1a1a" >0.4</text>
<text x="371.00" y="209.90" font-size="8.3" text-anchor="end" font-weight="normal" fill="#1a1a1a" >0.6</text>
<text x="371.00" y="193.40" font-size="8.3" text-anchor="end" font-weight="normal" fill="#1a1a1a" >0.8</text>
<text x="354.20" y="221.20" font-size="8.6" text-anchor="middle" fill="#1a1a1a" style="stroke:#1a1a1a;stroke-width:0.3px" transform="rotate(-90 354.20 221.20)" textLength="31.40" lengthAdjust="spacingAndGlyphs">Spleen (g)</text>
<line x1="377.20" y1="256.00" x2="473.40" y2="256.00" stroke="#000" stroke-width="1.25" />
<line x1="388.50" y1="256.00" x2="388.50" y2="258.60" stroke="#1a1a1a" stroke-width="1" />
<text x="388.50" y="270.20" font-size="7.9" text-anchor="middle" font-weight="normal" fill="#1a1a1a" >wk1</text>
<line x1="413.20" y1="256.00" x2="413.20" y2="258.60" stroke="#1a1a1a" stroke-width="1" />
<text x="413.20" y="270.20" font-size="7.9" text-anchor="middle" font-weight="normal" fill="#1a1a1a" >wk2</text>
<line x1="437.70" y1="256.00" x2="437.70" y2="258.60" stroke="#1a1a1a" stroke-width="1" />
<text x="437.70" y="270.20" font-size="7.9" text-anchor="middle" font-weight="normal" fill="#1a1a1a" >wk3</text>
<line x1="462.20" y1="256.00" x2="462.20" y2="258.60" stroke="#1a1a1a" stroke-width="1" />
<text x="462.20" y="270.20" font-size="7.9" text-anchor="middle" font-weight="normal" fill="#1a1a1a" >wk4</text>
<text x="425.40" y="283.40" font-size="10" text-anchor="middle" font-weight="normal" fill="#1a1a1a" textLength="46.50" lengthAdjust="spacingAndGlyphs" style="stroke:#1a1a1a;stroke-width:0.5px">Weeks post-Rx</text>
<circle cx="382.30" cy="250.72" r="1.35" fill="#b8002e" stroke="#111" stroke-width="0.45"/>
<circle cx="385.70" cy="250.72" r="1.35" fill="#b8002e" stroke="#111" stroke-width="0.45"/>
<circle cx="384.00" cy="249.40" r="1.35" fill="#b8002e" stroke="#111" stroke-width="0.45"/>
<circle cx="407.00" cy="250.72" r="1.35" fill="#b8002e" stroke="#111" stroke-width="0.45"/>
<circle cx="410.40" cy="250.72" r="1.35" fill="#b8002e" stroke="#111" stroke-width="0.45"/>
<circle cx="408.70" cy="249.40" r="1.35" fill="#b8002e" stroke="#111" stroke-width="0.45"/>
<circle cx="431.50" cy="250.72" r="1.35" fill="#b8002e" stroke="#111" stroke-width="0.45"/>
<circle cx="434.90" cy="250.72" r="1.35" fill="#b8002e" stroke="#111" stroke-width="0.45"/>
<circle cx="433.20" cy="249.40" r="1.35" fill="#b8002e" stroke="#111" stroke-width="0.45"/>
<circle cx="456.00" cy="250.72" r="1.35" fill="#b8002e" stroke="#111" stroke-width="0.45"/>
<circle cx="459.40" cy="250.72" r="1.35" fill="#b8002e" stroke="#111" stroke-width="0.45"/>
<circle cx="457.70" cy="249.40" r="1.35" fill="#b8002e" stroke="#111" stroke-width="0.45"/>
<line x1="393.10" y1="230.43" x2="393.10" y2="216.40" stroke="#1a1a1a" stroke-width="0.9" />
<line x1="390.50" y1="222.18" x2="395.70" y2="222.18" stroke="#1a1a1a" stroke-width="0.9" />
<circle cx="391.60" cy="216.40" r="1.35" fill="#16306a" stroke="#111" stroke-width="0.45"/>
<circle cx="394.60" cy="216.40" r="1.35" fill="#16306a" stroke="#111" stroke-width="0.45"/>
<circle cx="393.10" cy="222.18" r="1.35" fill="#16306a" stroke="#111" stroke-width="0.45"/>
<circle cx="391.60" cy="229.60" r="1.35" fill="#16306a" stroke="#111" stroke-width="0.45"/>
<circle cx="394.60" cy="231.25" r="1.35" fill="#16306a" stroke="#111" stroke-width="0.45"/>
<line x1="417.60" y1="238.68" x2="417.60" y2="230.43" stroke="#1a1a1a" stroke-width="0.9" />
<line x1="415.00" y1="234.55" x2="420.20" y2="234.55" stroke="#1a1a1a" stroke-width="0.9" />
<circle cx="416.40" cy="231.25" r="1.35" fill="#16306a" stroke="#111" stroke-width="0.45"/>
<circle cx="418.80" cy="234.55" r="1.35" fill="#16306a" stroke="#111" stroke-width="0.45"/>
<circle cx="417.60" cy="238.68" r="1.35" fill="#16306a" stroke="#111" stroke-width="0.45"/>
<circle cx="440.40" cy="238.68" r="1.35" fill="#16306a" stroke="#111" stroke-width="0.45"/>
<circle cx="443.60" cy="238.68" r="1.35" fill="#16306a" stroke="#111" stroke-width="0.45"/>
<circle cx="442.00" cy="237.85" r="1.35" fill="#16306a" stroke="#111" stroke-width="0.45"/>
<circle cx="465.20" cy="240.32" r="1.35" fill="#16306a" stroke="#111" stroke-width="0.45"/>
<circle cx="466.80" cy="239.50" r="1.35" fill="#16306a" stroke="#111" stroke-width="0.45"/>
<circle cx="468.40" cy="238.68" r="1.35" fill="#16306a" stroke="#111" stroke-width="0.45"/>
<circle cx="467.40" cy="237.85" r="1.35" fill="#16306a" stroke="#111" stroke-width="0.45"/>
<line x1="383.00" y1="208.20" x2="393.10" y2="208.20" stroke="#444" stroke-width="1.1" />
<circle cx="385.15" cy="203.60" r="1.0" fill="#1a1a1a"/>
<circle cx="388.05" cy="203.60" r="1.0" fill="#1a1a1a"/>
<circle cx="390.95" cy="203.60" r="1.0" fill="#1a1a1a"/>
<line x1="407.50" y1="224.00" x2="416.70" y2="224.00" stroke="#444" stroke-width="1.1" />
<circle cx="410.65" cy="220.50" r="1.0" fill="#1a1a1a"/>
<circle cx="413.55" cy="220.50" r="1.0" fill="#1a1a1a"/>
<line x1="430.30" y1="229.70" x2="440.20" y2="229.70" stroke="#444" stroke-width="1.1" />
<circle cx="432.35" cy="226.80" r="1.0" fill="#1a1a1a"/>
<circle cx="435.25" cy="226.80" r="1.0" fill="#1a1a1a"/>
<circle cx="438.15" cy="226.80" r="1.0" fill="#1a1a1a"/>
<line x1="458.00" y1="233.40" x2="467.90" y2="233.40" stroke="#444" stroke-width="1.1" />
<circle cx="461.50" cy="230.10" r="1.0" fill="#1a1a1a"/>
<circle cx="464.40" cy="230.10" r="1.0" fill="#1a1a1a"/>
<circle cx="483.1" cy="242.9" r="1.35" fill="#b8002e"/>
<circle cx="483.1" cy="251.6" r="1.35" fill="#16306a"/>
<text x="487.60" y="244.80" font-size="7.7" text-anchor="start" font-weight="normal" fill="#1a1a1a" textLength="24.30" lengthAdjust="spacingAndGlyphs" >Control</text>
<text x="487.60" y="253.60" font-size="7.7" text-anchor="start" font-weight="normal" fill="#1a1a1a" textLength="24.30" lengthAdjust="spacingAndGlyphs" >Treated</text>
</svg>
</body></html>
